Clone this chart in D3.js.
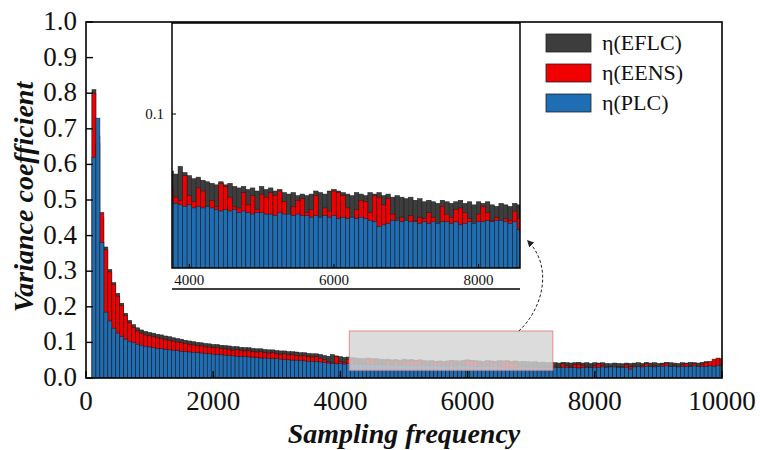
<!DOCTYPE html>
<html>
<head>
<meta charset="utf-8">
<script src="https://cdn.jsdelivr.net/npm/d3@7.9.0/dist/d3.min.js"></script>
<style>
  body { margin: 0; background: #fff; }
  svg { display: block; }
  text { fill: #111; }
</style>
</head>
<body>
<svg id="chart" width="760" height="450" font-family="'Liberation Serif', 'Times New Roman', serif"></svg>
<script>
// sampling frequencies: 125, 187.5, ... 10000
const freqStart = 125, freqStep = 62.5, nBars = 159;

// η(EFLC) - dark bars (drawn at the back)
const eflc = [
  0.810, 0.680, 0.450, 0.368, 0.305, 0.268, 0.238, 0.210, 0.182, 0.162,
  0.150, 0.141, 0.135, 0.131, 0.128, 0.126, 0.123, 0.121, 0.118, 0.116,
  0.113, 0.111, 0.109, 0.106, 0.104, 0.102, 0.100, 0.099, 0.097, 0.096,
  0.094, 0.094, 0.092, 0.091, 0.090, 0.088, 0.088, 0.086, 0.085, 0.085,
  0.083, 0.082, 0.082, 0.080, 0.079, 0.079, 0.077, 0.076, 0.076, 0.074,
  0.074, 0.073, 0.071, 0.071, 0.069, 0.068, 0.068, 0.066, 0.063, 0.061,
  0.066, 0.062, 0.060, 0.058, 0.059, 0.057, 0.056, 0.055, 0.054, 0.056,
  0.054, 0.055, 0.053, 0.052, 0.053, 0.051, 0.052, 0.050, 0.053, 0.051,
  0.052, 0.050, 0.051, 0.049, 0.048, 0.049, 0.047, 0.048, 0.047, 0.048,
  0.050, 0.049, 0.048, 0.050, 0.051, 0.050, 0.049, 0.048, 0.047, 0.049,
  0.048, 0.047, 0.049, 0.048, 0.049, 0.047, 0.048, 0.046, 0.047, 0.046,
  0.045, 0.046, 0.044, 0.045, 0.043, 0.044, 0.043, 0.042, 0.044, 0.043,
  0.042, 0.043, 0.044, 0.042, 0.043, 0.041, 0.043, 0.042, 0.043, 0.041,
  0.040, 0.042, 0.041, 0.040, 0.042, 0.041, 0.042, 0.043, 0.041, 0.044,
  0.042, 0.043, 0.041, 0.042, 0.044, 0.043, 0.042, 0.041, 0.043, 0.042,
  0.044, 0.043, 0.042, 0.044, 0.046, 0.045, 0.047, 0.049, 0.050
];

// η(EENS) - red bars
const eens = [
  0.800, 0.660, 0.465, 0.360, 0.298, 0.262, 0.230, 0.203, 0.175, 0.155,
  0.142, 0.132, 0.126, 0.121, 0.119, 0.116, 0.114, 0.111, 0.109, 0.106,
  0.104, 0.101, 0.100, 0.097, 0.095, 0.093, 0.091, 0.090, 0.088, 0.087,
  0.085, 0.086, 0.083, 0.082, 0.081, 0.078, 0.080, 0.077, 0.076, 0.077,
  0.074, 0.073, 0.074, 0.071, 0.070, 0.071, 0.068, 0.067, 0.068, 0.065,
  0.066, 0.064, 0.062, 0.063, 0.060, 0.059, 0.060, 0.056, 0.051, 0.046,
  0.044, 0.060, 0.047, 0.043, 0.052, 0.050, 0.038, 0.044, 0.040, 0.055,
  0.053, 0.046, 0.040, 0.039, 0.049, 0.041, 0.047, 0.038, 0.048, 0.046,
  0.049, 0.047, 0.050, 0.043, 0.033, 0.040, 0.044, 0.045, 0.036, 0.038,
  0.047, 0.030, 0.039, 0.037, 0.050, 0.049, 0.047, 0.039, 0.031, 0.038,
  0.044, 0.043, 0.036, 0.047, 0.046, 0.041, 0.045, 0.035, 0.028, 0.033,
  0.029, 0.034, 0.031, 0.033, 0.032, 0.036, 0.033, 0.027, 0.040, 0.035,
  0.033, 0.038, 0.039, 0.036, 0.032, 0.027, 0.035, 0.040, 0.036, 0.031,
  0.033, 0.028, 0.032, 0.031, 0.037, 0.032, 0.034, 0.031, 0.036, 0.040,
  0.029, 0.035, 0.033, 0.038, 0.042, 0.031, 0.036, 0.028, 0.037, 0.040,
  0.034, 0.041, 0.032, 0.039, 0.044, 0.046, 0.053, 0.056, 0.054
];

// η(PLC) - blue bars (front)
const plc = [
  0.620, 0.730, 0.380, 0.185, 0.160, 0.140, 0.126, 0.116, 0.109, 0.103,
  0.099, 0.095, 0.092, 0.089, 0.087, 0.085, 0.083, 0.082, 0.080, 0.079,
  0.078, 0.077, 0.075, 0.074, 0.073, 0.072, 0.071, 0.070, 0.069, 0.068,
  0.067, 0.066, 0.065, 0.064, 0.063, 0.062, 0.061, 0.060, 0.060, 0.059,
  0.058, 0.057, 0.056, 0.056, 0.055, 0.054, 0.054, 0.053, 0.052, 0.051,
  0.050, 0.050, 0.049, 0.048, 0.047, 0.047, 0.046, 0.045, 0.043, 0.042,
  0.041, 0.040, 0.041, 0.039, 0.040, 0.039, 0.040, 0.039, 0.038, 0.037,
  0.038, 0.037, 0.038, 0.036, 0.037, 0.036, 0.035, 0.036, 0.036, 0.035,
  0.035, 0.034, 0.036, 0.035, 0.035, 0.034, 0.035, 0.034, 0.034, 0.033,
  0.034, 0.033, 0.034, 0.033, 0.034, 0.032, 0.033, 0.032, 0.033, 0.032,
  0.033, 0.032, 0.031, 0.030, 0.027, 0.028, 0.029, 0.031, 0.031, 0.030,
  0.031, 0.030, 0.030, 0.029, 0.030, 0.029, 0.030, 0.029, 0.030, 0.030,
  0.029, 0.030, 0.028, 0.029, 0.030, 0.029, 0.030, 0.030, 0.031, 0.030,
  0.031, 0.031, 0.030, 0.029, 0.030, 0.025, 0.031, 0.032, 0.031, 0.033,
  0.032, 0.031, 0.033, 0.032, 0.034, 0.032, 0.033, 0.031, 0.032, 0.033,
  0.032, 0.034, 0.033, 0.032, 0.033, 0.034, 0.033, 0.035, 0.034
];

const yTicks = [0, 0.1, 0.2, 0.3, 0.4, 0.5, 0.6, 0.7, 0.8, 0.9, 1.0];
const xTicks = [0, 2000, 4000, 6000, 8000, 10000];
const insetXTicks = [4000, 6000, 8000];
const insetYTicks = [0.1];
const legendLabels = ['η(EFLC)', 'η(EENS)', 'η(PLC)'];
const colors = ['#3d3d3d', '#f00000', '#1f6db2'];

// zoom box on the main chart (data units) and inset's x window
const zoomBox = { x0: 4140, x1: 7340, y0: 0.022, y1: 0.132 };
const insetDomain = [3760, 8573];

const freqs = d3.range(nBars).map(i => freqStart + i * freqStep);
const series = [eflc, eens, plc].map((values, k) => ({
  name: legendLabels[k], values, color: colors[k]
}));

const svg = d3.select('#chart');
svg.append('rect').attr('width', 760).attr('height', 450).attr('fill', '#fff');

const x = d3.scaleLinear().domain([0, 10000]).range([86, 722]);
const y = d3.scaleLinear().domain([0, 1]).range([378, 22]);

const defs = svg.append('defs');
defs.append('clipPath').attr('id', 'clipMain').append('rect')
  .attr('x', x(0)).attr('y', y(1)).attr('width', x(10000) - x(0)).attr('height', y(0) - y(1));

defs.append('marker')
  .attr('id', 'arrow').attr('viewBox', '0 0 10 10').attr('refX', 8).attr('refY', 5)
  .attr('markerWidth', 7).attr('markerHeight', 7).attr('orient', 'auto')
  .append('path').attr('d', 'M0,0 L10,5 L0,10 z').attr('fill', '#222');

function drawBars(g, xs, ys) {
  const bw = xs(freqStep) - xs(0);
  series.forEach(s => {
    g.append('g')
      .selectAll('rect')
      .data(freqs.map((f, i) => ({ f, v: s.values[i] })))
      .join('rect')
      .attr('x', d => xs(d.f) - bw / 2)
      .attr('y', d => ys(d.v))
      .attr('width', bw)
      .attr('height', d => ys(0) - ys(d.v))
      .attr('fill', s.color)
      .attr('stroke', '#1a1a1a')
      .attr('stroke-width', 0.5);
  });
}

// main bars
const main = svg.append('g').attr('clip-path', 'url(#clipMain)');
drawBars(main, x, y);

// grey zoom box
svg.append('rect')
  .attr('x', x(zoomBox.x0)).attr('y', y(zoomBox.y1))
  .attr('width', x(zoomBox.x1) - x(zoomBox.x0))
  .attr('height', y(zoomBox.y0) - y(zoomBox.y1))
  .attr('fill', '#d4d4d4').attr('fill-opacity', 0.82)
  .attr('stroke', '#e58a8a').attr('stroke-width', 1);

// main frame + ticks
svg.append('rect')
  .attr('x', x(0)).attr('y', y(1)).attr('width', x(10000) - x(0)).attr('height', y(0) - y(1))
  .attr('fill', 'none').attr('stroke', '#000').attr('stroke-width', 1.6);

svg.append('g').selectAll('line').data(yTicks).join('line')
  .attr('x1', x(0)).attr('x2', x(0) + 7)
  .attr('y1', d => y(d)).attr('y2', d => y(d))
  .attr('stroke', '#000').attr('stroke-width', 1.4);
svg.append('g').selectAll('text').data(yTicks).join('text')
  .attr('x', x(0) - 9).attr('y', d => y(d) + 8)
  .attr('text-anchor', 'end').attr('font-size', 27)
  .text(d => d3.format('.1f')(d));

svg.append('g').selectAll('line').data(xTicks).join('line')
  .attr('x1', d => x(d)).attr('x2', d => x(d))
  .attr('y1', y(0)).attr('y2', y(0) - 7)
  .attr('stroke', '#000').attr('stroke-width', 1.4);
svg.append('g').selectAll('text').data(xTicks).join('text')
  .attr('x', d => x(d)).attr('y', 410)
  .attr('text-anchor', 'middle').attr('font-size', 27)
  .text(d => d);

svg.append('text')
  .attr('x', (x(0) + x(10000)) / 2).attr('y', 443)
  .attr('text-anchor', 'middle').attr('font-size', 28)
  .attr('font-weight', 'bold').attr('font-style', 'italic')
  .text('Sampling frequency');

svg.append('text')
  .attr('transform', `translate(33, ${(y(0) + y(1)) / 2 - 3}) rotate(-90)`)
  .attr('text-anchor', 'middle').attr('font-size', 28)
  .attr('font-weight', 'bold').attr('font-style', 'italic')
  .text('Variance coefficient');

// legend
const legend = svg.append('g');
legendLabels.forEach((label, k) => {
  const cy = 43 + k * 30;
  legend.append('rect')
    .attr('x', 546).attr('y', cy - 9).attr('width', 45).attr('height', 18)
    .attr('fill', colors[k]).attr('stroke', '#222').attr('stroke-width', 0.8);
  legend.append('text')
    .attr('x', 602).attr('y', cy + 7).attr('font-size', 22)
    .text(label);
});

// inset
const xi = d3.scaleLinear().domain(insetDomain).range([172, 520]);
const yi = d3.scaleLinear().domain([0, 0.1]).range([268, 114]);
defs.append('clipPath').attr('id', 'clipInset').append('rect')
  .attr('x', 172).attr('y', 23).attr('width', 348).attr('height', 245);

const inset = svg.append('g');
inset.append('rect').attr('x', 172).attr('y', 23).attr('width', 348).attr('height', 245)
  .attr('fill', '#fff');
drawBars(inset.append('g').attr('clip-path', 'url(#clipInset)'), xi, yi);
inset.append('rect').attr('x', 172).attr('y', 23).attr('width', 348).attr('height', 245)
  .attr('fill', 'none').attr('stroke', '#000').attr('stroke-width', 1.5);

inset.selectAll('.yt').data(insetYTicks).join('line')
  .attr('x1', 172).attr('x2', 176).attr('y1', d => yi(d)).attr('y2', d => yi(d))
  .attr('stroke', '#000');
inset.selectAll('.ytl').data(insetYTicks).join('text')
  .attr('x', 164).attr('y', d => yi(d) + 5)
  .attr('text-anchor', 'end').attr('font-size', 15)
  .text(d => d);
inset.selectAll('.xt').data(insetXTicks).join('line')
  .attr('x1', d => xi(d)).attr('x2', d => xi(d)).attr('y1', 268).attr('y2', 264)
  .attr('stroke', '#000');
inset.selectAll('.xtl').data(insetXTicks).join('text')
  .attr('x', d => xi(d)).attr('y', 285)
  .attr('text-anchor', 'middle').attr('font-size', 15)
  .text(d => d);
inset.append('line').attr('x1', 172).attr('x2', 520).attr('y1', 289).attr('y2', 289)
  .attr('stroke', '#000').attr('stroke-width', 1.4);

// dashed arrow from zoom box to inset
const ax = x(zoomBox.x1) - 34, ay = y(zoomBox.y1);
svg.append('path')
  .attr('d', `M${ax},${ay} C${ax + 22},${ay - 20} ${ax + 36},${ay - 62} 528,241`)
  .attr('fill', 'none').attr('stroke', '#222').attr('stroke-width', 1)
  .attr('stroke-dasharray', '3,2')
  .attr('marker-end', 'url(#arrow)');
</script>
</body>
</html>
